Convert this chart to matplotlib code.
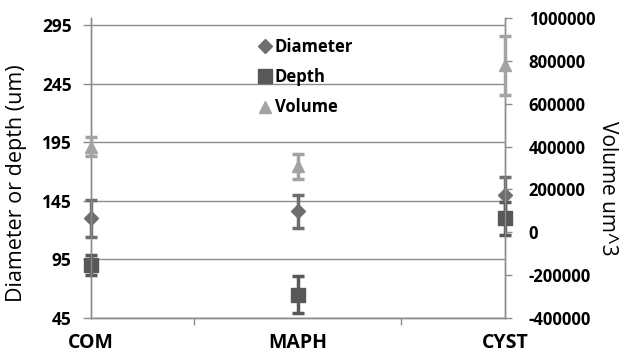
import matplotlib.pyplot as plt
from matplotlib.lines import Line2D
from matplotlib.ticker import FuncFormatter

plt.rcParams['font.family'] = ['Open Sans', 'DejaVu Sans']

categories = ['COM', 'MAPH', 'CYST']
diameter = [130, 136, 150]
diameter_err = [16, 14, 15]
depth = [90, 65, 130]
depth_err = [8.5, 16, 14]
volume = [400000, 308000, 780000]
volume_err = [45000, 57000, 138000]

left_ticks = [45, 95, 145, 195, 245, 295]
right_ticks = [-400000, -200000, 0, 200000, 400000, 600000, 800000, 1000000]

grid_col = '#8c8c8c'
col_dia, col_dep, col_vol = '#6e6e6e', '#585858', '#a3a3a3'

fig = plt.figure(figsize=(6.2, 3.6), dpi=100)
ax = fig.add_axes([91 / 620, 42 / 360, 414 / 620, 300 / 360])
ax2 = ax.twinx()

x = list(range(len(categories)))

eb_kw = dict(elinewidth=2.5, capsize=4, capthick=2.5, zorder=4)
for a, vals, errs, m, c, ms in [(ax, diameter, diameter_err, 'D', col_dia, 7),
                                (ax, depth, depth_err, 's', col_dep, 10),
                                (ax2, volume, volume_err, '^', col_vol, 9)]:
    eb = a.errorbar(x, vals, yerr=errs, fmt=m, color=c, ms=ms, **eb_kw)
    for artist in eb.lines[0:1] + tuple(eb.lines[1]) + tuple(eb.lines[2]):
        artist.set_clip_on(False)

ax.set_xlim(0, 2)
ax.set_ylim(45, 301)
ax2.set_ylim(-400000, 1000000)
ax.set_yticks(left_ticks)
ax2.set_yticks(right_ticks)
ax2.yaxis.set_major_formatter(FuncFormatter(lambda v, p: '%d' % v))
ax.yaxis.grid(True, color=grid_col, linewidth=1)
ax.set_axisbelow(True)

ax.set_xticks(x)
ax.set_xticklabels(categories, fontsize=14, fontweight='bold')
ax.set_xticks([0.5, 1.5], minor=True)
ax.tick_params(axis='x', which='major', length=0, pad=11)
ax.tick_params(axis='x', which='minor', length=5, color=grid_col, width=1)
ax.tick_params(axis='y', length=6, color=grid_col, width=1, labelsize=12.5, pad=8)
ax2.tick_params(axis='y', length=5, color=grid_col, width=1, labelsize=12, pad=12)
for lab in ax.get_yticklabels() + ax2.get_yticklabels():
    lab.set_fontweight('bold')

for a in (ax, ax2):
    a.spines['top'].set_visible(False)
    for s in ('left', 'right', 'bottom'):
        a.spines[s].set_color(grid_col)
        a.spines[s].set_linewidth(1)

ax.set_ylabel('Diameter or depth (um)', fontsize=15.5, va='center')
ax.yaxis.set_label_coords(-0.179, 0.45)
ax2.set_ylabel('Volume um^3', fontsize=15, rotation=-90, va='center')
ax2.yaxis.set_label_coords(1.248, 0.433)

handles = [Line2D([], [], ls='none', marker='D', color=col_dia, ms=7),
           Line2D([], [], ls='none', marker='s', color=col_dep, ms=10),
           Line2D([], [], ls='none', marker='^', color=col_vol, ms=9)]
ax2.legend(handles, ['Diameter', 'Depth', 'Volume'], loc='upper left',
           bbox_to_anchor=(0.365, 0.985), frameon=False, handletextpad=0.05,
           handlelength=1.0, labelspacing=0.75,
           prop={'weight': 'bold', 'size': 12})

plt.savefig('out.png', dpi=100)
